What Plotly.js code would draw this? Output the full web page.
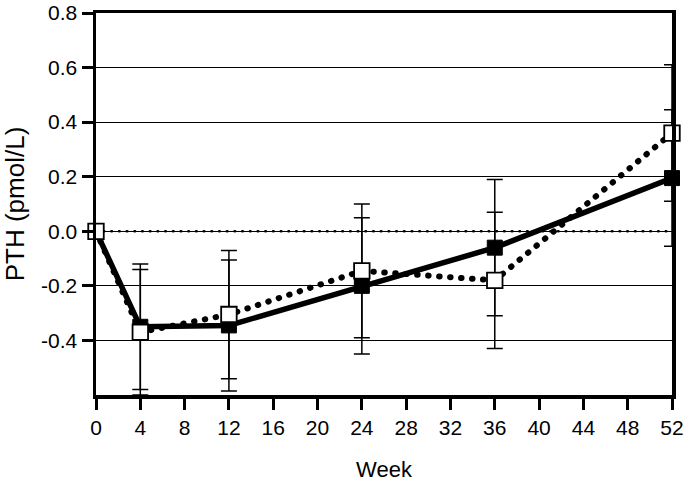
<!DOCTYPE html>
<html>
<head>
<meta charset="utf-8">
<script src="https://cdn.plot.ly/plotly-3.0.1.min.js"></script>
<style>
html,body{margin:0;padding:0;background:#fff;}
#chart{width:685px;height:482px;}
.scatterlayer .js-line{stroke-linecap:round;}
</style>
</head>
<body>
<div id="chart"></div>
<script>
// Data
const weeks = [0, 4, 12, 24, 36, 52];
const filledValues = [0, -0.35, -0.345, -0.20, -0.06, 0.195];
const filledErrors = [0, 0.23, 0.24, 0.25, 0.25, 0.25];
const openValues = [0, -0.37, -0.305, -0.145, -0.18, 0.36];
const openErrors = [0, 0.23, 0.235, 0.245, 0.25, 0.25];
const refX = [0, 52];
const refY = [0, 0];
const xTicks = [0, 4, 8, 12, 16, 20, 24, 28, 32, 36, 40, 44, 48, 52];
const yTicks = [-0.4, -0.2, 0.0, 0.2, 0.4, 0.6, 0.8];
const yTickLabels = ['-0.4', '-0.2', '0.0', '0.2', '0.4', '0.6', '0.8'];

const FONT = 'Liberation Sans, Arial, Helvetica, sans-serif';

const traces = [
  {
    x: refX, y: refY, type: 'scatter', mode: 'lines',
    line: {color: '#000', width: 2.6, dash: '0.5px,7.2px'},
    hoverinfo: 'skip', showlegend: false, cliponaxis: false
  },
  {
    x: weeks, y: filledValues, type: 'scatter', mode: 'lines+markers',
    line: {color: '#000', width: 5.5},
    marker: {symbol: 'square', size: 15, color: '#000', line: {color: '#000', width: 1}},
    error_y: {type: 'data', array: filledErrors, visible: true, color: '#000', thickness: 1.5, width: 8},
    showlegend: false, cliponaxis: false
  },
  {
    x: weeks, y: openValues, type: 'scatter', mode: 'lines+markers',
    line: {color: '#000', width: 6, dash: '0.5px,10.5px'},
    marker: {symbol: 'square', size: 15.5, color: '#fff', line: {color: '#000', width: 1.8}},
    error_y: {type: 'data', array: openErrors, visible: true, color: '#000', thickness: 1.5, width: 8},
    showlegend: false, cliponaxis: false
  }
];

const layout = {
  width: 685, height: 482,
  margin: {l: 96, r: 13, t: 13, b: 87},
  paper_bgcolor: '#fff', plot_bgcolor: '#fff',
  font: {family: FONT, color: '#000', size: 20},
  showlegend: false,
  xaxis: {
    range: [0, 52], tickmode: 'array', tickvals: xTicks,
    ticktext: xTicks.map(String),
    showline: true, mirror: true, linecolor: '#000', linewidth: 3.5,
    ticks: 'outside', ticklen: 11, tickwidth: 3, tickcolor: '#000',
    showgrid: false, zeroline: false, ticklabeloverflow: 'allow',
    tickfont: {family: FONT, size: 21, color: '#000'},
    title: {text: 'Week', font: {family: FONT, size: 22, color: '#000'}, standoff: 26}
  },
  yaxis: {
    range: [-0.6, 0.8], tickmode: 'array', tickvals: yTicks, ticktext: yTickLabels,
    showline: true, mirror: true, linecolor: '#000', linewidth: 3.5,
    ticks: 'outside', ticklen: 11, tickwidth: 3, tickcolor: '#000',
    showgrid: true, gridcolor: '#000', gridwidth: 1, zeroline: false,
    ticklabeloverflow: 'allow',
    tickfont: {family: FONT, size: 21, color: '#000'},
    title: {text: 'PTH (pmol/L)', font: {family: FONT, size: 26, color: '#000'}, standoff: 10}
  }
};

Plotly.newPlot('chart', traces, layout, {displayModeBar: false, staticPlot: true});
</script>
</body>
</html>
